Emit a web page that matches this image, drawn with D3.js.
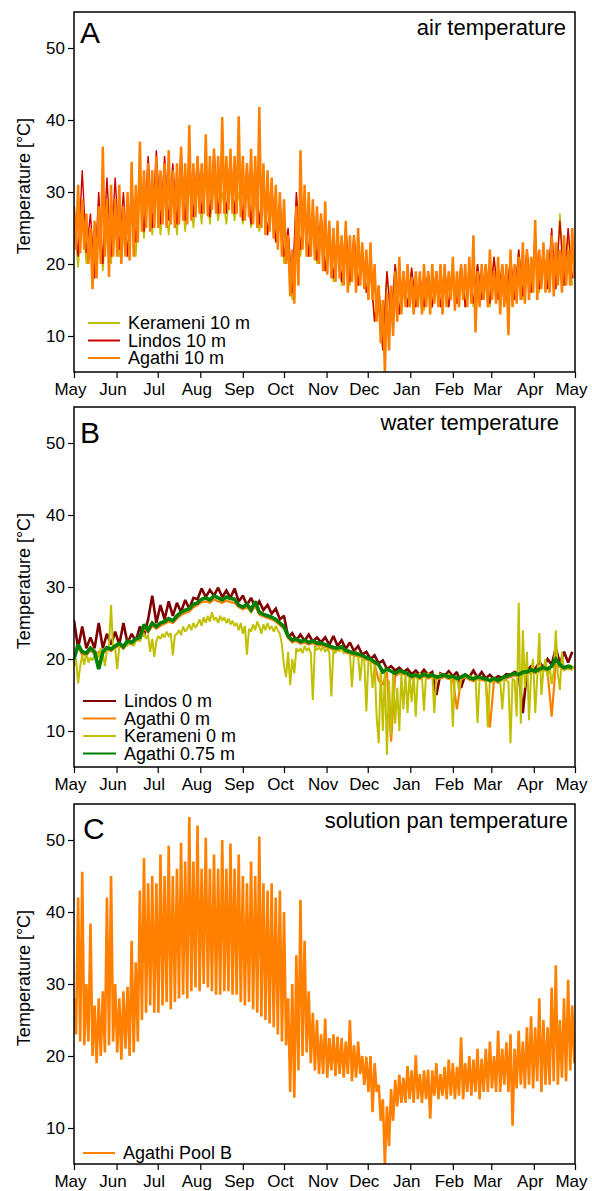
<!DOCTYPE html>
<html>
<head>
<meta charset="utf-8">
<script src="https://cdn.jsdelivr.net/npm/d3@7"></script>
<style>
  body { margin: 0; background: #fff; }
  svg text { font-family: "Liberation Sans", Arial, sans-serif; fill: #000; }
</style>
</head>
<body>
<div id="chart"></div>
<script>
// Values: alternating peaks and troughs.
// step = days between two readings, first reading on 1 May.

var monthLabels = ["May", "Jun", "Jul", "Aug", "Sep", "Oct", "Nov", "Dec", "Jan", "Feb", "Mar", "Apr", "May"];
var yTicks = [10, 20, 30, 40, 50];

// A - air temperature
var airAgathi = [
  28,22,31,21.5,29,22,27,20,25,16.5,
  26,18,28,20,36.3,21,29,18.2,31,21,
  29,21,31,20,28,21,30,20.5,34.2,21,
  31,23,37,24.5,33,25,34,24.5,33,25,
  35,25,33,25.5,34,25,35.8,25.5,33,25,
  34,25.5,36.3,26,34,25.5,39.3,26,34,26.5,
  35,27,34,27,38,26.6,35,27.5,36,27,
  35,27,40.4,27,35,27.5,36,27,35,27,
  40.5,26.5,35,26,34,26.5,36,25.5,35,25,
  41.8,25,34,24,33,24.5,32,23.5,31,22,
  30,21,29,20,24,15.5,22,14.5,28,17,
  35.8,22,31,21,30,21,29,20.5,28,20,
  27,19,28.7,18.5,26,18,25,17.5,26,18,
  24,17,26,16,24,17.5,24,16,25,17,
  23,16.5,22,15,23,15,20,12,17,9,
  15,5,16,8,17,10,19,12,21,13,
  19,14,20,14,18.2,13,19,14,19,13,
  20,14,19,13,20,14.5,19,14,20,13,
  20,14,19,15,21,13.5,19,14,20,15,
  20,14,21,14.5,24,10.5,19,14,20,15,
  20,14,22,15,19,14.5,21,13,20,14,
  20,10.1,22,14,20,14.5,21,15,23,14.5,
  22,15,21,16,26.1,15,22,16.5,23,16,
  22,16,24,15.5,23,17,22,16,24,17,
  22,17,25,18
];
var airKerameni = [
  26,19.5,28,20,25,19.5,26,19,27,20,
  27,21,27,21.5,28,21,30,23.5,31,24,
  31,24,30,24,31,24,31,24.5,31,25,
  31,25.5,32,25.5,31,26,30,25.5,31,26,
  30,25.5,31,25,29,24.5,30,24,28,23,
  27,20,24,15,29,21,28,21,27,20,
  26,19,25,17.5,24,17,25,17,24,17,
  22,16,20,12,17,8,19,12,20,13,
  19,14,19,14,18,13.5,19,14,19,14,
  19,14,19,14.5,20,14,19,14,20,15,
  20,14,21,15,20,14.5,21,15,22,15,
  22,16,23,16,22,16.5,23,16.5,27,17,
  24,17
];
var airLindos = [
  28,21,33,21.5,27,18,30,20,32,21,
  32,22,30,21,31,23,33,24.5,35,25,
  35.8,25.5,35,26,34,25.5,36,26,35,26.5,
  35,27,34,26.5,36,27,34,27,35,27,
  35,26,34,25.5,34,25.5,32,24,31,23,
  29,21,25,16,30,22,29,21,28,20.5,
  27,19,25,18,24,17.5,25,17.5,24,17,
  22,16,19,12,17,8,19,12,20,13,
  19,14,19.5,14,18.5,14,19,14,19,14,
  19.5,14,19,14.5,20,14,19,14.5,20,15,
  20,14.5,21,15,20,15,21,15,22,15.5,
  22,16,24,16.5,22,16.5,25,16.5,26,17,
  25,18
];

// B - water temperature
var waterLindos = [
  25.4,21.5,24.5,21.5,23,21.5,25,21.5,23.5,22,
  23.8,22,25,22.2,23.5,22.5,24.5,23.2,25.5,28.8,
  25,27.5,25.5,28,26,27.8,26.5,28.2,27,28.5,
  28.3,29.8,28.6,29.6,28.8,29.9,28.6,29.5,28.5,29.8,
  28,28.8,27.5,28.5,27.2,28,26.8,27.5,26.3,27,
  25.5,26,23,23.6,22.6,23.4,22.5,23.4,22.4,23,
  22.3,23,22,23.2,21.8,22.6,21.4,22.3,21.1,21.8,
  20.6,21,20,20.5,19.4,19.8,18.6,19,18.4,18.8,
  18.2,18.6,17.9,18.4,17.8,18.5,17.8,18.2,15,18,
  17.7,18.3,17.6,18.2,16,17.8,17.5,18.4,17.4,18.2,
  17.3,17.8,17.2,17.6,17.4,17.9,17.8,18.2,18,12.5,
  18.4,19,18.6,19.6,18.8,20,19.2,21.5,19.4,21,
  19.5,21
];
var waterAgathi0 = [
  20.2,21.6,20.6,20.5,21.2,20.7,21,20.7,21.3,21.1,
  21.5,21.9,21.4,22.2,22,22.5,22.7,24.3,23.7,24.6,
  24.2,24.6,24.9,25.2,25,25.6,26.1,26.4,26.6,27.2,
  27.5,27.9,28,27.8,28.3,28,27.8,28.1,27.9,27.8,
  27.2,26.9,27.2,26.5,27.4,26.2,25.9,25.7,25.5,25.2,
  24.7,24.2,22.9,22.3,22.5,22.1,22.3,22,22.2,21.9,
  21.9,21.7,21.5,21.3,21.2,21.4,20.9,20.7,20.5,20.4,
  20.2,19.9,19.7,19.3,17,16.5,18.2,8.5,17.6,18,
  17.9,17.7,17.3,17.5,17.2,17.6,17.3,17.5,17.2,17.3,
  17.5,17.2,17.3,13,17.2,17.5,17.1,16.9,17.2,17.1,
  16.9,10.5,17,16.7,17.1,17.3,17.5,17.7,17.5,17.9,
  17.9,18.2,18,18.3,18.5,18.3,12,19.2,18.9,18.5,
  18.7,18.5
];
var waterKerameni = [
  19,20,16.6,19,20.5,19.2,21,19.5,20.2,19.8,
  20.5,21,20.2,21.5,20.8,19,21.2,21.8,27.5,21.3,
  21.5,18.6,21.8,22,21.6,22.3,21.9,22.5,22.2,21.8,
  22.5,23,22.4,23.2,23.5,22.8,23.4,21,22.8,20.3,
  22.5,23.2,22.8,23.5,23,23.8,23.2,23.6,20.5,23.3,
  23.5,24,23.3,24.5,23.8,24.2,24.8,24,25,24.4,
  24.8,25.5,24.6,25.8,25,26,25.2,26.5,25.4,25.8,
  25,26,25.3,25.8,25,25.6,24.8,25.3,24.6,25,
  24,25,23.5,24.6,20.6,24.2,23.8,24.8,24,25.2,
  24.5,23.5,24.8,24,25,24.2,24.5,23.8,24.6,24,
  23.5,22,19,17.5,21,16.4,20,18,21.5,21,
  21.5,20.8,21.8,21.2,21.5,20.9,14.3,21.8,21.3,21.6,
  21.2,21.8,21,21.5,20.9,14.8,21.3,20.8,21.6,21.1,
  21.4,20.8,21,21.3,20.8,16.1,20.6,21,20.4,17,
  20.3,19.8,12.7,20,19.6,16,19.2,12,8.3,18.8,
  10,18.5,6.7,17,9.5,18,11,16,10,18,
  13,18,12.5,17.8,14,17.9,12,17.6,18,17.5,
  12.8,17.8,18,17.6,17.9,12.5,17.8,17.5,17.9,17.7,
  17.8,17.4,17.9,17.6,10.6,17.5,17.3,15.5,17.5,17.8,
  17.6,17.3,17.7,17.4,17.5,17.6,11.1,17.3,17.5,17.2,
  17.3,10.5,17.2,16.8,17.4,17,17.2,16.9,13,17,
  17.1,16.8,8.3,17.3,17,12,27.8,11,24,16,
  21,11.5,18,20,12.5,17.5,23.6,15,18.5,20,
  17.5,19,16.5,18.2,24,18,15.7,21,18.3,19,
  18.5,19.2,18.6,19
];
var waterAgathi075 = [
  20,22,21,20.8,21.5,21,18.6,21,21.6,21.4,
  21.8,22.2,21.7,22.5,22.3,22.8,23,24.8,24,25,
  24.5,25,25.2,25.6,25.3,26,26.5,26.8,27,27.6,
  27.8,28.3,28.5,28.2,28.8,28.5,28.2,28.6,28.4,28.3,
  27.5,27.2,27.6,26.8,28,26.5,26.2,26,25.8,25.5,
  25,24.5,23.2,22.6,22.8,22.4,22.6,22.3,22.5,22.2,
  22.2,22,21.8,21.6,21.5,21.7,21.2,21,20.8,20.7,
  20.5,20.2,20,19.6,19.2,18.2,18.6,18.3,18,18.4,
  18.2,18,17.6,17.8,17.5,17.9,17.6,17.8,17.5,17.6,
  17.8,17.5,17.6,17.3,17.5,17.8,17.4,17.2,17.5,17.4,
  17.2,17,17.3,17,17.4,17.6,17.8,18,17.8,18.2,
  18.2,18.5,18.3,18.6,18.8,18.6,19,20,19.2,18.8,
  19,18.8
];

// C - solution pan temperature
var poolB = [
  28,23,42,22,45.6,21.5,30,22,38.4,20,
  27,19,28,20,29,20.5,42,21.5,45,22,
  30,20.5,28,19.5,29,21,29.6,20,36,20.5,
  33,22,43,25,47.5,26,44,27,45,26,
  44,26,48,27,45,27.5,49.2,26.5,45,27.5,
  46,28,49.6,28.5,47,28,53.2,29,47,29.5,
  52,29,46,30,50.3,29.5,46,29,48,28.5,
  46,28.5,50,29,46,29,49.5,28.5,46,28.5,
  48,27.5,45,27,44,27.5,47,26.5,45,26,
  50.5,25.5,44,25,43,24.5,44,24,42,23,
  43,22,40,21.5,28,15,30,14.2,34,18,
  41.7,20,36,20.5,29,19,26,18,25,17.5,
  23,17.5,25.2,17,22.5,18,23,17.2,22.7,17.5,
  22.5,17,22,17.5,25,16.5,21.5,17,22,17.5,
  20,16,19.9,15,20,12.2,19,15,16,11,
  14,5,13,7.5,15.4,11,16.7,13,17.4,13.5,
  17,13.5,18.6,14,18,13.5,20.1,14,17.5,13.5,
  18,14,18.1,11.3,18,14.5,19,14,17.5,14.5,
  18.5,14,19.5,14.5,19,14,18.5,14.5,22.6,14,
  19,15,20,14.5,19.5,15,21,14,19.6,15,
  21,15,22,15.5,20,15,23.5,15,21,16,
  21.9,15,23,10.3,21,15.5,23.5,16,22,15.5,
  24,16,25.5,15.5,24,16.5,28,15,25,16,
  24,16,29.5,16.5,32.6,16,25,17,28,16.5,
  30.6,18,27,19
];

var width = 592;
var height = 1191;
var plotLeft = 74;
var plotRight = 575;
var plotHeight = 360;

var startDate = new Date(2012, 4, 1);
var endDate = new Date(2013, 4, 1);

var svg;
var x;

var panels = [
  {
    top: 12, letter: "A", letterX: 80, letterY: 31,
    title: "air temperature", titleDx: -9, titleY: 23,
    legend: { x1: 88, x2: 120, tx: 128, y: 311 },
    series: [
      { name: "Kerameni 10 m", values: airKerameni, step: 3, color: "#bfbf00", width: 1.6 },
      { name: "Lindos 10 m", values: airLindos, step: 3, color: "#cc0000", width: 1.4 },
      { name: "Agathi 10 m", values: airAgathi, step: 1.5, color: "#ff8000", width: 2.5 }
    ]
  },
  {
    top: 407, letter: "B", letterX: 80, letterY: 36,
    title: "water temperature", titleDx: -16, titleY: 23,
    legend: { x1: 83, x2: 116, tx: 124, y: 294 },
    series: [
      { name: "Lindos 0 m", values: waterLindos, step: 3, color: "#800000", width: 2.6 },
      { name: "Agathi 0 m", values: waterAgathi0, step: 3, color: "#ff8000", width: 2.2 },
      { name: "Kerameni 0 m", values: waterKerameni, step: 1.5, color: "#c0c000", width: 2 },
      { name: "Agathi 0.75 m", values: waterAgathi075, step: 3, color: "#008000", width: 3.6 }
    ]
  },
  {
    top: 804, letter: "C", letterX: 83, letterY: 35,
    title: "solution pan temperature", titleDx: -7, titleY: 24,
    legend: { x1: 83, x2: 115, tx: 123, y: 349 },
    series: [
      { name: "Agathi Pool B", values: poolB, step: 1.5, color: "#ff8000", width: 2.6 }
    ]
  }
];

function initSvg() {
  svg = d3.select("#chart")
    .append("svg")
    .attr("width", width)
    .attr("height", height);

  x = d3.scaleTime()
    .domain([startDate, endDate])
    .range([plotLeft, plotRight]);
}

function toPoints(values, step) {
  return values.map(function (v, i) {
    return { date: new Date(startDate.getTime() + i * step * 864e5), value: v };
  });
}

function drawPanel(panel, index) {
  var top = panel.top;
  var y = d3.scaleLinear().domain([5, 55]).range([top + plotHeight, top]);
  var g = svg.append("g");

  var clipId = "clip" + index;
  svg.append("defs").append("clipPath")
    .attr("id", clipId)
    .append("rect")
    .attr("x", plotLeft)
    .attr("y", top)
    .attr("width", plotRight - plotLeft)
    .attr("height", plotHeight);

  var line = d3.line()
    .x(function (d) { return x(d.date); })
    .y(function (d) { return y(d.value); });

  var lines = g.append("g").attr("clip-path", "url(#" + clipId + ")");
  panel.series.forEach(function (s) {
    lines.append("path")
      .datum(toPoints(s.values, s.step))
      .attr("fill", "none")
      .attr("stroke", s.color)
      .attr("stroke-width", s.width)
      .attr("stroke-linejoin", "miter")
      .attr("stroke-miterlimit", 2)
      .attr("d", line);
  });

  // x axis, month ticks
  var xAxis = d3.axisBottom(x)
    .tickValues(d3.timeMonth.range(startDate, d3.timeDay.offset(endDate, 1)))
    .tickFormat(function (d, i) { return monthLabels[i]; })
    .tickSize(6)
    .tickPadding(5);
  var xg = g.append("g")
    .attr("transform", "translate(0," + (top + plotHeight) + ")")
    .call(xAxis);
  xg.select(".domain").remove();
  xg.selectAll("text").attr("dx", -4);

  var yAxis = d3.axisLeft(y)
    .tickValues(yTicks)
    .tickSize(6)
    .tickPadding(3);
  var yg = g.append("g")
    .attr("transform", "translate(" + plotLeft + ",0)")
    .call(yAxis);
  yg.select(".domain").remove();

  [xg, yg].forEach(function (a) {
    a.attr("font-size", 17)
      .attr("font-family", "'Liberation Sans', Arial, sans-serif");
    a.selectAll(".tick line").attr("stroke", "#000").attr("stroke-width", 1.2);
  });

  g.append("rect")
    .attr("x", plotLeft)
    .attr("y", top)
    .attr("width", plotRight - plotLeft)
    .attr("height", plotHeight)
    .attr("fill", "none")
    .attr("stroke", "#000")
    .attr("stroke-width", 1.5);

  g.append("text")
    .attr("transform", "translate(30," + (top + 174) + ") rotate(-90)")
    .attr("text-anchor", "middle")
    .style("font-size", "18px")
    .text("Temperature [°C]");

  g.append("text")
    .attr("x", panel.letterX)
    .attr("y", top + panel.letterY)
    .style("font-size", "30px")
    .text(panel.letter);

  g.append("text")
    .attr("x", plotRight + panel.titleDx)
    .attr("y", top + panel.titleY)
    .attr("text-anchor", "end")
    .style("font-size", "22px")
    .text(panel.title);

  drawLegend(g, panel);
}

function drawLegend(g, panel) {
  var lg = panel.legend;
  var rowHeight = 17.5;
  panel.series.forEach(function (s, i) {
    var ry = panel.top + lg.y + i * rowHeight;
    g.append("line")
      .attr("x1", lg.x1)
      .attr("x2", lg.x2)
      .attr("y1", ry)
      .attr("y2", ry)
      .attr("stroke", s.color)
      .attr("stroke-width", 2);
    g.append("text")
      .attr("x", lg.tx)
      .attr("y", ry)
      .attr("dy", "0.35em")
      .style("font-size", "18px")
      .text(s.name);
  });
}

(function () {
  initSvg();
  panels.forEach(drawPanel);
}());
</script>
</body>
</html>
